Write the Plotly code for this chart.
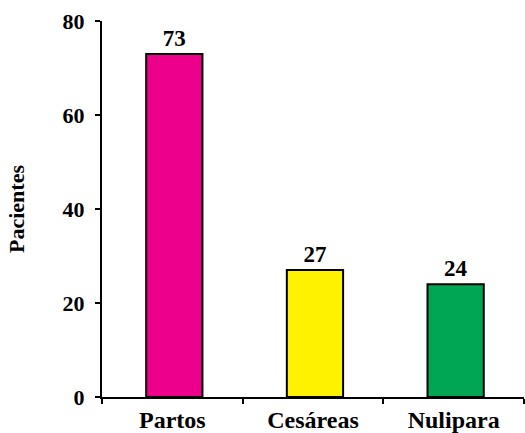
import plotly.graph_objects as go

categories = ["Partos", "Cesáreas", "Nulipara"]
values = [73, 27, 24]
colors = ["#EC008C", "#FFF200", "#00A651"]
y_ticks = [0, 20, 40, 60, 80]

font_family = "Liberation Serif, Times New Roman, serif"

fig = go.Figure()
fig.add_trace(go.Bar(
    x=categories,
    y=values,
    marker=dict(color=colors, line=dict(color="black", width=2)),
    width=0.4,
    offset=-0.186,
    text=[str(v) for v in values],
    textposition="outside",
    cliponaxis=False,
    textfont=dict(family=font_family, size=23, color="black", weight="bold"),
))

fig.update_layout(
    width=525, height=433,
    margin=dict(l=102, r=1, t=21, b=36),
    paper_bgcolor="white", plot_bgcolor="white",
    showlegend=False,
    font=dict(family=font_family, color="black", weight="bold"),
)
fig.update_xaxes(
    range=[-0.5, 2.5],
    showline=True, linecolor="black", linewidth=2,
    ticks="outside", tickson="boundaries", ticklen=5, tickwidth=2, tickcolor="black",
    tickfont=dict(family=font_family, size=24, color="black", weight="bold"),
    showgrid=False, zeroline=False,
)
fig.update_yaxes(
    range=[0, 80],
    tickvals=y_ticks,
    showline=True, linecolor="black", linewidth=2,
    ticks="outside", ticklen=5, tickwidth=2, tickcolor="black",
    ticklabelstandoff=6,
    tickfont=dict(family=font_family, size=22, color="black", weight="bold"),
    title=dict(text="Pacientes", font=dict(family=font_family, size=22, color="black", weight="bold"), standoff=32),
    showgrid=False, zeroline=False,
)

fig.write_html("out.html")
